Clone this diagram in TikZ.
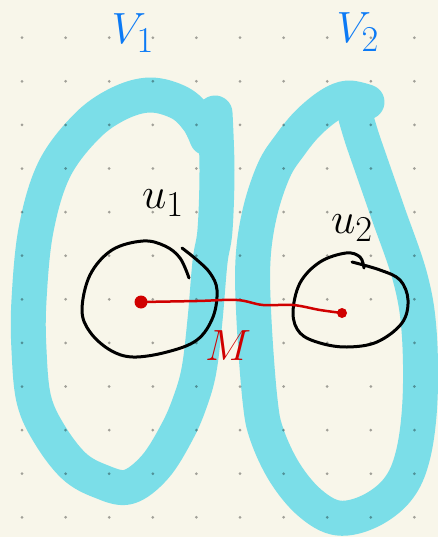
\documentclass[tikz,border=0pt]{standalone}
\usepackage{tikz}
\usetikzlibrary{calc}
\definecolor{paper}{RGB}{248,246,234}
\definecolor{loopcyan}{RGB}{123,222,232}
\definecolor{penblue}{RGB}{12,122,245}
\definecolor{penred}{RGB}{208,0,0}

\begin{document}
\begin{tikzpicture}[x=0.02cm, y=-0.02cm,
  part/.style={loopcyan, line width=0.7cm, line cap=round, line join=round},
  pen/.style={black, line width=0.06cm, line cap=round, line join=round},
  edgepen/.style={penred, line width=0.05cm, line cap=round},
  vdot/.style={circle, fill=penred, inner sep=0pt, minimum size=0.2cm},
  lab/.style={font=\fontsize{31}{36}\selectfont, inner sep=0pt}]
  % Paper and page size (pixels of the sketch)
  \fill[paper] (0,0) rectangle (438,537);
  \useasboundingbox (0,0) rectangle (438,537);

  % V1 loop
  \draw[part] plot[smooth, tension=0.6] coordinates {
    (215,113) (217,170) (215,230) (210,262) (205,320) (199,370) (190,402)
    (177,432) (155,467) (128,487) (100,481) (74,466) (50,435) (34,400)
    (29,350) (29,300) (36,230) (54,170) (86,127) (118,104) (150,95)
    (180,103) (198,120) (207,138)};
  % V2 loop
  \draw[part] plot[smooth, tension=0.6] coordinates {
    (367,102) (348,98) (330,105) (308,123) (290,145) (274,170) (260,212)
    (253,260) (254,320) (260,400) (267,435) (285,473) (310,503) (338,518)
    (370,511) (398,489) (413,455) (420,400) (419,330) (410,277)
    (388,213) (372,167) (362,138) (356,118)};

  % Dot grid
  \foreach \i in {0,...,9}{
    \foreach \j in {0,...,11}{
      \fill[black, opacity=0.35] (22+43.6*\i, 37.7+43.6*\j) circle (1.5);
    }
  }

  % Circles around the vertices
  \draw[pen] plot[smooth, tension=0.6] coordinates {
    (189,278) (180,258) (165,246) (143,241) (112,250) (90,275) (82,310)
    (90,332) (110,350) (133,357) (167,352) (197,340) (213,317) (217,290)
    (210,273) (197,260) (182,248)};
  \draw[pen] plot[smooth, tension=0.6] coordinates {
    (352,262) (380,270) (400,280) (408,300) (402,323) (377,342) (347,347)
    (320,343) (300,333) (293,313) (300,283) (320,262) (346,253) (360,257)
    (364,268)};

  % Edge between the two vertices
  \node[vdot, minimum width=0.26cm] (d1) at (141,302) {};
  \node[vdot] (d2) at (342,313) {};
  \draw[edgepen] plot[smooth, tension=0.6] coordinates {
    (d1.center) (197,301) (237,300) (263,305) (293,305) (320,310) (d2.center)};

  % Labels
  \node[lab, text=penblue] (v1) at (133,33) {$V_1$};
  \node[lab, text=penblue] (v2) at (358,32) {$V_2$};
  \node[lab] (u1) at (163,203) {$u_1$};
  \node[lab] (u2) at (352,228) {$u_2$};
  \node[lab, text=penred, font=\fontsize{24}{28}\selectfont] (m) at (228,346) {$M$};
\end{tikzpicture}
\end{document}
